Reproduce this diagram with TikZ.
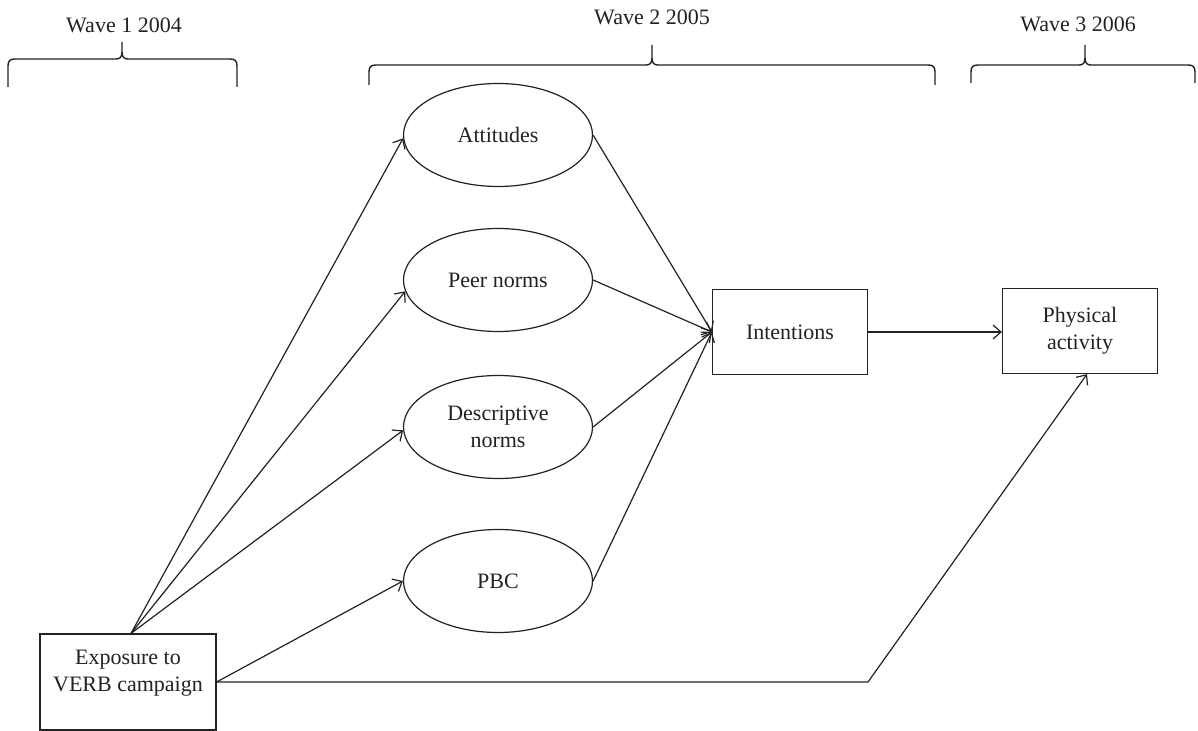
\documentclass[tikz,border=0pt]{standalone}
\usepackage{fontspec}
\setmainfont{Liberation Serif}
\usetikzlibrary{arrows.meta,shapes.geometric}
\definecolor{Paper}{HTML}{FFFFFF}
\definecolor{Ink}{HTML}{222222}

\begin{document}
\begin{tikzpicture}[x=0.5pt,y=-0.5pt,
  font=\fontsize{11}{13.5}\selectfont, text=Ink,
  oval/.style={ellipse, draw=Ink, line width=0.6pt, minimum width=94.5pt, minimum height=51.5pt, inner sep=0pt, align=center},
  box/.style={rectangle, draw=Ink, line width=0.6pt, minimum width=77.5pt, minimum height=42.5pt, inner sep=0pt, align=center},
  arr/.style={Ink, line width=0.6pt, -{Straight Barb[length=4pt,width=7pt]}},
  brc/.style={Ink, line width=0.7pt}]
\useasboundingbox (0,0) rectangle (1198,731);
\fill[Paper] (0,0) rectangle (1198,731);
\foreach \l/\m/\r/\h/\e/\t in {8/122/237/59/87/42, 369/652/935/65/85/45, 971/1085/1195/65/83/45}
  \draw[brc] (\l,\e) -- (\l,\h+7) .. controls (\l,\h+2) and (\l+2,\h) .. (\l+7,\h) -- (\m-6,\h) .. controls (\m-2,\h) and (\m,\h-2) .. (\m,\h-7) -- (\m,\t) -- (\m,\h-7) .. controls (\m,\h-2) and (\m+2,\h) .. (\m+6,\h) -- (\r-7,\h) .. controls (\r-2,\h) and (\r,\h+2) .. (\r,\h+7) -- (\r,\e);
\node (w1) at (124,25) {Wave 1 2004};
\node (w2) at (652,17) {Wave 2 2005};
\node (w3) at (1078,24) {Wave 3 2006};
\node[oval] (att) at (498,135) {Attitudes};
\node[oval] (peer) at (498,280) {Peer norms};
\node[oval] (desc) at (498,427) {Descriptive\\norms};
\node[oval] (pbc) at (498,581) {PBC};
\node[box] (int) at (790,332) {Intentions};
\node[box] (phys) at (1080,331) {Physical\\activity};
\node[box, minimum width=88pt, minimum height=48pt] (expo) at (128,682) {};
\node[align=center] (expotxt) at (128,673) {Exposure to\\VERB campaign};
\coordinate (bend) at (868,684);
\foreach \o/\a in {att/182, peer/187, desc/182}
  \draw[arr] ([xshift=1.5pt]expo.north) -- (\o.\a);
\draw[arr] (expo.east) -- (pbc.180);
\foreach \o in {att,peer,desc,pbc}
  \draw[arr] (\o.east) -- (int.west);
\draw[arr] (int.east) -- (int.east -| phys.west);
\draw[arr] (expo.east) -- (expo.east -| bend) -- ([xshift=3.5pt]phys.south);
\end{tikzpicture}
\end{document}
